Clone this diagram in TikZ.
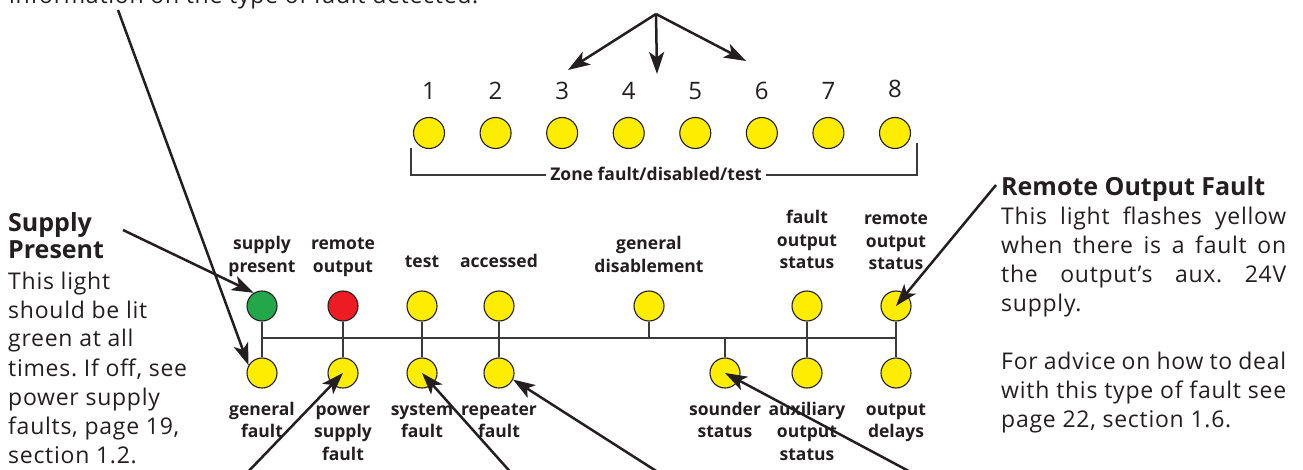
\documentclass[tikz,border=0pt]{standalone}
\usepackage{fontspec}
\setmainfont{Open Sans}
\newfontfamily\bodyfont[LetterSpace=3.2]{Open Sans}
\usetikzlibrary{arrows.meta}
\definecolor{ink}{HTML}{231F20}
\definecolor{ledyellow}{HTML}{FFED00}
\definecolor{ledgreen}{HTML}{22A84A}
\definecolor{ledred}{HTML}{ED1C24}
\definecolor{wire}{HTML}{3A3A3A}
\newcommand\cstack[1]{\begin{tabular}[t]{@{}c@{}}#1\end{tabular}}
\newcommand\lstack[1]{\begin{tabular}[t]{@{}l@{}}#1\end{tabular}}
\tikzset{
  lbl/.style={font=\fontsize{17.5}{22.5}\selectfont\bfseries, text=ink, inner sep=0pt, anchor=base},
  num/.style={font=\fontsize{24}{28}\selectfont, text=ink, inner sep=0pt, anchor=base},
  body/.style={font=\bodyfont\fontsize{23}{29}\selectfont\frenchspacing, text=ink, inner sep=0pt, anchor=base west},
  head/.style={font=\fontsize{25}{27}\selectfont\bfseries, text=ink, inner sep=0pt, anchor=base west},
  led/.style={circle, draw=ink, line width=1.1pt, minimum size=30pt, inner sep=0pt, fill=ledyellow},
  zled/.style={led, minimum size=31pt},
  wireline/.style={draw=wire, line width=1.2pt},
  arr/.style={draw=ink, line width=2.5pt, -{Stealth[length=22pt,width=15pt,inset=5.5pt]}},
}
\begin{document}
\begin{tikzpicture}[x=1pt,y=-1pt]
\useasboundingbox (0,0) rectangle (1303,470);
\fill[white] (0,0) rectangle (1303,470);

% cut-off text at top
\node[body] (toptext) at (9,4) {information on the type of fault detected.};

% zone row
\foreach \i in {1,...,8} {
  \pgfmathsetmacro\xx{429+66.57*(\i-1)}
  \node[zled] (z\i) at (\xx,133) {};
}
\node[num] (n1) at (z1 |- 0,100) {1};
\node[num] (n2) at (z2 |- 0,100) {2};
\node[num] (n3) at (z3 |- 0,100) {3};
\node[num] (n4) at (z4 |- 0,100) {4};
\node[num] (n5) at (z5 |- 0,100) {5};
\node[num] (n6) at (z6 |- 0,100) {6};
\node[num] (n7) at (z7 |- 0,100) {7};
\node[num] (n8) at (z8 |- 0,98) {8};
\node[lbl, inner xsep=4pt] (zlab) at (656,181) {Zone fault/disabled/test};
\coordinate (bl) at (411,148);
\coordinate (br) at (917,143);
\draw[wireline] (bl) |- (zlab.west |- 0,175);
\draw[wireline] (br) |- (zlab.east |- 0,175);

% top arrows
\coordinate (apex) at (656,14);
\coordinate (t3) at (568,70);
\coordinate (t4) at (657,74);
\coordinate (t6) at (746,61);
\draw[arr] (apex) -- (t3);
\draw[arr] (apex) -- (t4);
\draw[arr] (apex) -- (t6);

% status LEDs top row
\node[led, fill=ledgreen] (Lsp) at (262,306) {};
\node[led, fill=ledred] (Lro) at (343,306) {};
\node[led] (Lts) at (422,306) {};
\node[led] (Lac) at (499,306) {};
\node[led] (Lgd) at (649,306) {};
\node[led] (Lfos) at (807,306) {};
\node[led] (Lros) at (896,306) {};
% bottom row
\node[led] (Lgf) at (262,373) {};
\node[led] (Lpsf) at (343,373) {};
\node[led] (Lsf) at (422,373) {};
\node[led] (Lrf) at (499,373) {};
\node[led] (Lss) at (725,373) {};
\node[led] (Laos) at (807,373) {};
\node[led] (Lod) at (896,373) {};

% bus
\coordinate (busL) at (262,338);
\coordinate (busR) at (896,338);
\draw[wireline] (busL) -- (busR);
\draw[wireline] (Lsp) -- (Lgf);
\draw[wireline] (Lro) -- (Lpsf);
\draw[wireline] (Lts) -- (Lsf);
\draw[wireline] (Lac) -- (Lrf);
\draw[wireline] (Lfos) -- (Laos);
\draw[wireline] (Lros) -- (Lod);
\draw[wireline] (Lgd) -- (Lgd |- busL);
\draw[wireline] (Lss) -- (Lss |- busL);

% top labels
\node[lbl] (tsp) at (262,250) {\cstack{supply\\present}};
\node[lbl] (tro) at (343,250) {\cstack{remote\\output}};
\node[lbl] (tts) at (422,268) {test};
\node[lbl] (tac) at (499,268) {accessed};
\node[lbl] (tgd) at (649,250) {\cstack{general\\disablement}};
\node[lbl] (tfos) at (807,224) {\cstack{fault\\output\\status}};
\node[lbl] (tros) at (896,225) {\cstack{remote\\output\\status}};
% bottom labels
\node[lbl] (bgf) at (262,415) {\cstack{general\\fault}};
\node[lbl] (bpsf) at (343,415) {\cstack{power\\supply\\fault}};
\node[lbl] (bsf) at (422,415) {\cstack{system\\fault}};
\node[lbl] (brf) at (499,415) {\cstack{repeater\\fault}};
\node[lbl] (bss) at (725,415) {\cstack{sounder\\status}};
\node[lbl] (baos) at (807,415) {\cstack{auxiliary\\output\\status}};
\node[lbl] (bod) at (896,415) {\cstack{output\\delays}};

% left text
\node[head] (lhead) at (8,232) {\lstack{Supply\\Present}};
\node[body] (lbody) at (8,289) {\lstack{This light\\should be lit\\green at all\\times. If off, see\\power supply\\faults, page 19,\\section 1.2.}};

% right text
\node[head] (rhead) at (1001,196) {Remote Output Fault};
\node[body] (rbody) at (1001,225) {\lstack{\makebox[285pt][s]{This light flashes yellow}\\\makebox[285pt][s]{when there is a fault on}\\\makebox[285pt][s]{the output’s aux. 24V}\\supply.\\ \\\makebox[285pt][s]{For advice on how to deal}\\\makebox[285pt][s]{with this type of fault see}\\page 22, section 1.6.}};

% leader arrows
\coordinate (a0) at (118,10);
\coordinate (a1) at (123,230);
\coordinate (a2) at (996,185);
\coordinate (a3) at (244,476);
\coordinate (a4) at (514,476);
\coordinate (a5) at (664,476);
\coordinate (a6) at (918,476);
\draw[arr] (a0) -- (Lgf.150);
\draw[arr] (a1) -- (Lsp.122);
\draw[arr] (a2) -- (Lros.center);
\draw[arr] (a3) -- (Lpsf.center);
\draw[arr] (a4) -- (Lsf.center);
\draw[arr] (a5) -- (Lrf.-25);
\draw[arr] (a6) -- (Lss.center);
\end{tikzpicture}
\end{document}
